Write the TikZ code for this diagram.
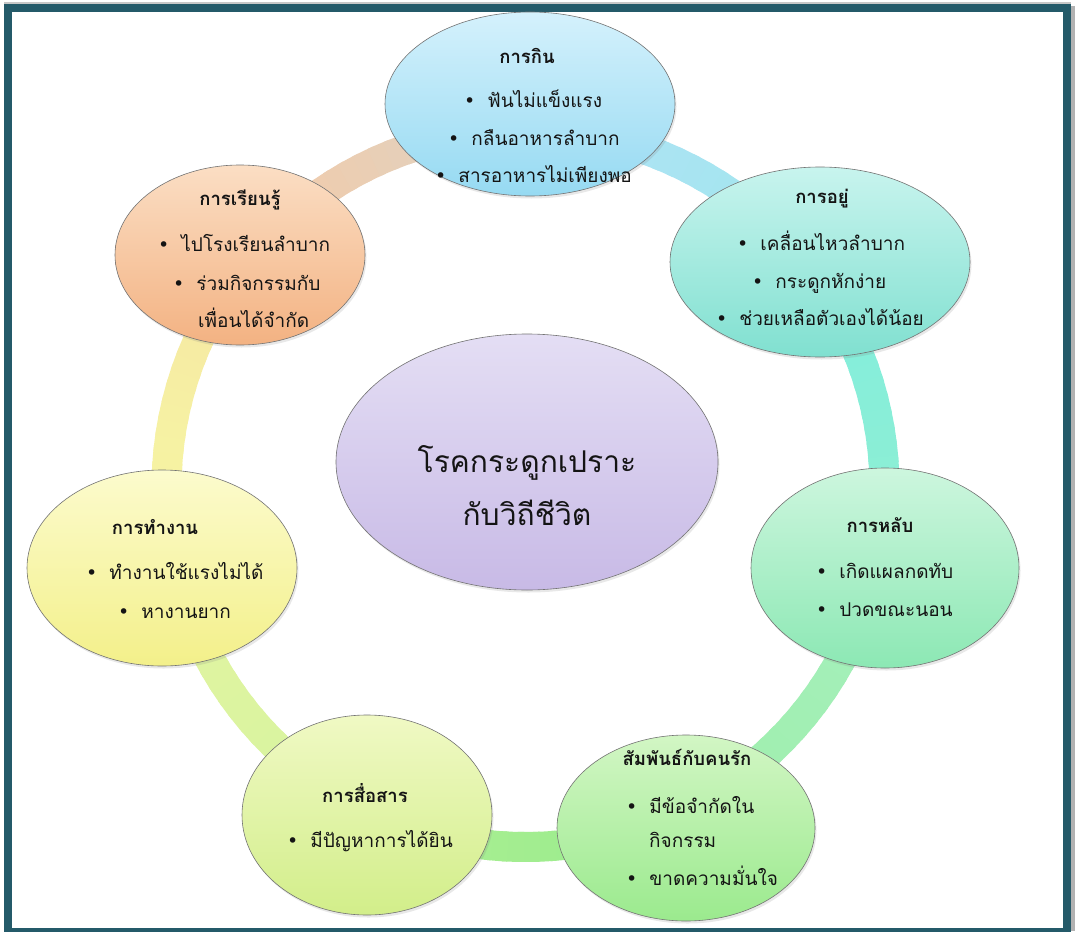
\documentclass[tikz,border=0pt]{standalone}
\usepackage{fontspec}
\newfontfamily\thaifont[Script=Thai]{Loma}
\newfontfamily\symfont{DejaVu Sans}
\usetikzlibrary{shapes.geometric,shadows}
\definecolor{framec}{HTML}{245A69}
\definecolor{txtc}{HTML}{141414}
\definecolor{rEat}{RGB}{178,226,246}
\definecolor{rLive}{RGB}{130,238,222}
\definecolor{rSleep}{RGB}{165,240,190}
\definecolor{rRel}{RGB}{150,236,140}
\definecolor{rComm}{RGB}{214,243,160}
\definecolor{rWork}{RGB}{246,248,162}
\definecolor{rLearn}{RGB}{246,202,166}
\newcommand\bul{{\symfont •}\hspace{12pt}}
\tikzset{
  ell/.style={ellipse, draw=black!55, line width=0.6pt, inner sep=0pt,
    drop shadow={opacity=0.18, shadow xshift=1.5pt, shadow yshift=-2.5pt}},
  body/.style={font=\thaifont\fontsize{19}{23}\selectfont, inner sep=0pt, text=txtc},
  bl/.style={body, anchor=base west},
  ttl/.style={font=\thaifont\bfseries\fontsize{18.5}{22}\selectfont, inner sep=0pt, text=txtc, anchor=base},
  big/.style={font=\thaifont\fontsize{30}{36}\selectfont, inner sep=0pt, text=txtc, anchor=base},
}
\begin{document}
\begin{tikzpicture}[x=1pt,y=-1pt]
\useasboundingbox (0,0) rectangle (1075,931);
\fill[white] (0,0) rectangle (1075,931);
\fill[black!30] (1071,6) rectangle (1075,931);
\fill[black!22] (4,2.5) rectangle (1071,4.2);
\draw[framec, line width=8pt] (8,8) rectangle (1067,932);

% ring
\coordinate (rc) at (525.5,488);
\foreach \a/\b/\ca/\cb in {-89/-37.5/rEat/rLive, -37.5/12.5/rLive/rSleep, 12.5/64.7/rSleep/rRel,
  64.7/115.8/rRel/rComm, 115.8/167.6/rComm/rWork, 167.6/219/rWork/rLearn, 219/271/rLearn/rEat}{
  \foreach \t in {0,...,19}{
    \pgfmathsetmacro\sa{\a+(\b-\a)*\t/20}
    \pgfmathsetmacro\ea{\a+(\b-\a)*(\t+1.4)/20}
    \pgfmathtruncatemacro\pc{100-\t*2}
    \draw[line width=30pt, color=\ca!\pc!\cb, shift={(rc)}] (\sa:359) arc[start angle=\sa, end angle=\ea, radius=359];
  }
}

% ellipses
\node[ell, minimum width=290pt, minimum height=184pt, top color={rgb,255:red,212;green,241;blue,252}, bottom color={rgb,255:red,150;green,218;blue,242}] (eat) at (530,104) {};
\node[ell, minimum width=300pt, minimum height=190pt, top color={rgb,255:red,200;green,244;blue,238}, bottom color={rgb,255:red,128;green,224;blue,208}] (live) at (820,262) {};
\node[ell, minimum width=250pt, minimum height=180pt, top color={rgb,255:red,251;green,222;blue,196}, bottom color={rgb,255:red,243;green,178;blue,130}] (learn) at (240,255) {};
\node[ell, minimum width=382pt, minimum height=256pt, top color={rgb,255:red,228;green,222;blue,244}, bottom color={rgb,255:red,200;green,186;blue,230}] (core) at (527,462) {};
\node[ell, minimum width=270pt, minimum height=196pt, top color={rgb,255:red,252;green,251;blue,205}, bottom color={rgb,255:red,243;green,240;blue,138}] (work) at (162,568) {};
\node[ell, minimum width=268pt, minimum height=200pt, top color={rgb,255:red,205;green,246;blue,222}, bottom color={rgb,255:red,140;green,232;blue,180}] (sleep) at (885,568) {};
\node[ell, minimum width=250pt, minimum height=200pt, top color={rgb,255:red,240;green,249;blue,196}, bottom color={rgb,255:red,210;green,238;blue,138}] (comm) at (367,815) {};
\node[ell, minimum width=258pt, minimum height=186pt, top color={rgb,255:red,210;green,246;blue,196}, bottom color={rgb,255:red,155;green,234;blue,142}] (rel) at (686,828) {};

% eat
\node[ttl] (eatT) at (527,64) {การกิน};
\node[bl] (eat1) at (464,108) {\bul ฟันไม่แข็งแรง};
\node[bl] (eat2) at (448,145) {\bul กลืนอาหารลำบาก};
\node[bl] (eat3) at (435,182) {\bul สารอาหารไม่เพียงพอ};
% live
\node[ttl] (liveT) at (822,203) {การอยู่};
\node[bl] (live1) at (737,250) {\bul เคลื่อนไหวลำบาก};
\node[bl] (live2) at (752,288) {\bul กระดูกหักง่าย};
\node[bl] (live3) at (716,325) {\bul ช่วยเหลือตัวเองได้น้อย};
% learn
\node[ttl] (learnT) at (240,205) {การเรียนรู้};
\node[bl] (learn1) at (158,251) {\bul ไปโรงเรียนลำบาก};
\node[bl] (learn2) at (173,290) {\bul ร่วมกิจกรรมกับ};
\node[bl] (learn3) at (198,327) {เพื่อนได้จำกัด};
% core
\node[big] (core1) at (527,472) {โรคกระดูกเปราะ};
\node[big] (core2) at (527,525) {กับวิถีชีวิต};
% work
\node[ttl] (workT) at (155,534) {การทำงาน};
\node[bl] (work1) at (86,579) {\bul ทำงานใช้แรงไม่ได้};
\node[bl] (work2) at (118,618) {\bul หางานยาก};
% sleep
\node[ttl] (sleepT) at (880,532) {การหลับ};
\node[bl] (sleep1) at (816,578) {\bul เกิดแผลกดทับ};
\node[bl] (sleep2) at (816,616) {\bul ปวดขณะนอน};
% comm
\node[ttl] (commT) at (365,802) {การสื่อสาร};
\node[bl] (comm1) at (287,847) {\bul มีปัญหาการได้ยิน};
% rel
\node[ttl] (relT) at (687,765) {สัมพันธ์กับคนรัก};
\node[bl] (rel1) at (626,813) {\bul มีข้อจำกัดใน};
\node[bl] (rel2) at (649,847) {กิจกรรม};
\node[bl] (rel3) at (626,885) {\bul ขาดความมั่นใจ};
\end{tikzpicture}
\end{document}
